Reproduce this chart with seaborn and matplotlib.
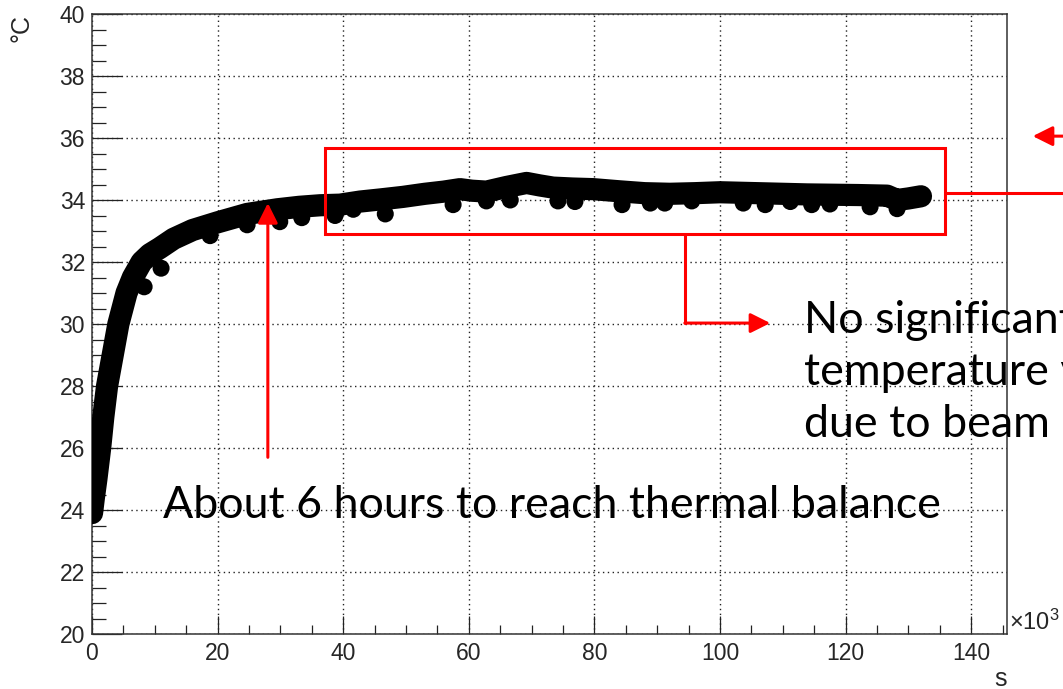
import numpy as np
import pandas as pd
import seaborn as sns
import matplotlib
matplotlib.use("Agg")
import matplotlib.pyplot as plt
from matplotlib.ticker import MultipleLocator
from matplotlib.patches import Rectangle

# ---- data (time in 10^3 s, temperature in deg C) ----
time_main = [0, 0.3, 0.7, 1.3, 1.8, 2.4, 3.3, 4.2, 5.5, 6.5, 7.9, 9.2, 10.8, 13, 16, 20,
             24.7, 29.5, 33, 36.3, 39.5, 42.7, 46, 49.5, 53, 56, 58.6, 60.5, 62.8, 66,
             69.2, 71.3, 73.4, 76.5, 79.8, 84, 88, 92, 96, 100, 104, 108, 113.9, 118,
             122, 126.6, 128.2, 130, 132.0]
temp_main = [23.9, 24.4, 25.0, 26.0, 27.0, 28.0, 29.0, 30.0, 31.0, 31.5, 32.0, 32.25,
             32.45, 32.75, 33.03, 33.28, 33.55, 33.7, 33.78, 33.83, 33.85, 33.95, 34.02,
             34.1, 34.2, 34.27, 34.35, 34.3, 34.27, 34.42, 34.55, 34.47, 34.4, 34.37,
             34.35, 34.28, 34.22, 34.2, 34.22, 34.25, 34.23, 34.21, 34.18, 34.17, 34.16,
             34.14, 34.0, 34.05, 34.12]

time_dips = [8.3, 11.0, 18.8, 24.7, 29.9, 33.4, 38.7, 41.6, 46.7, 57.5, 62.8, 66.6, 74.2,
             76.9, 84.4, 88.9, 91.2, 95.5, 103.7, 107.2, 111.2, 114.6, 117.5, 123.9, 128.2]
temp_dips = [31.2, 31.8, 32.85, 33.2, 33.3, 33.43, 33.5, 33.7, 33.55, 33.85, 33.97, 34.0,
             33.97, 33.95, 33.85, 33.9, 33.9, 33.97, 33.9, 33.85, 33.95, 33.85, 33.87,
             33.78, 33.72]

x_ticks = [0, 20, 40, 60, 80, 100, 120, 140]
y_ticks = [20, 22, 24, 26, 28, 30, 32, 34, 36, 38, 40]

note_main = "About 6 hours to reach thermal balance"
note_side = ["No significant", "temperature variation", "due to beam"]

df_main = pd.DataFrame({"t": time_main, "T": temp_main})
df_dips = pd.DataFrame({"t": time_dips, "T": temp_dips})

sns.set_style("white")
plt.rcParams["font.family"] = ["Liberation Sans", "DejaVu Sans"]
plt.rcParams["mathtext.fontset"] = "custom"
plt.rcParams["mathtext.rm"] = "Liberation Sans"
plt.rcParams["mathtext.it"] = "Liberation Sans:italic"

W, H = 1063, 689
fig = plt.figure(figsize=(W / 100, H / 100), dpi=100)
L, R, T, B = 92, 1007, 14, 634
ax = fig.add_axes([L / W, 1 - B / H, (R - L) / W, (B - T) / H])

sns.lineplot(data=df_main, x="t", y="T", ax=ax, color="black", linewidth=16,
             sort=False, solid_capstyle="round", solid_joinstyle="round", zorder=3)
sns.scatterplot(data=df_dips, x="t", y="T", ax=ax, color="black", s=150,
                edgecolor="none", zorder=3)

ax.set_xlim(0, 145.7)
ax.set_ylim(20, 40)
ax.set_xticks(x_ticks)
ax.set_yticks(y_ticks)
ax.xaxis.set_minor_locator(MultipleLocator(5))
ax.yaxis.set_minor_locator(MultipleLocator(0.5))
ax.grid(True, which="major", color="#222222", linestyle=(0, (1, 2.5)), linewidth=1.0, zorder=1)
ax.set_axisbelow(True)

for s in ax.spines.values():
    s.set_color("#333333")
    s.set_linewidth(1.1)

ax.tick_params(axis="x", which="major", direction="in", length=13, width=0.9,
               labelsize=16.5, pad=6, color="#222222", bottom=True, top=False)
ax.tick_params(axis="x", which="minor", direction="in", length=6.5, width=0.9,
               color="#222222", bottom=True, top=False)
ax.tick_params(axis="y", which="major", direction="in", length=21.6, width=0.9,
               labelsize=16.5, pad=5, color="#222222", left=True, right=False)
ax.tick_params(axis="y", which="minor", direction="in", length=10, width=0.9,
               color="#222222", left=True, right=False)

ax.set_ylabel("°C", fontsize=18)
ax.yaxis.set_label_coords((22 - L) / (R - L), (B - 28) / (B - T))
ax.yaxis.label.set_rotation_mode("default")
ax.yaxis.label.set_ha("center")
ax.yaxis.label.set_va("center")
ax.set_xlabel("s", fontsize=18)
ax.xaxis.set_label_coords((1001 - L) / (R - L), (B - 679) / (B - T))
ax.xaxis.label.set_ha("center")
ax.xaxis.label.set_va("center")
ax.text(1.002, -0.002, r"$\mathrm{\times10^{3}}$", transform=ax.transAxes, ha="left",
        va="bottom", fontsize=17)

# ---- red annotations ----
red = "#ff0000"
lw_red = 2.2
arrow_kw = dict(arrowstyle="-|>,head_length=0.8,head_width=0.4", color=red, lw=lw_red,
                mutation_scale=15, shrinkA=0, shrinkB=0)

ax.add_patch(Rectangle((37.1, 32.9), 98.7, 2.78, fill=False, ec=red, lw=lw_red, zorder=6))
ax.plot([135.8, 165], [34.23, 34.23], color=red, lw=lw_red, clip_on=False, zorder=6)
ax.annotate("", xy=(149.8, 36.06), xytext=(165, 36.06), arrowprops=arrow_kw,
            annotation_clip=False, zorder=6)
ax.plot([94.4, 94.4], [32.9, 30.03], color=red, lw=lw_red, zorder=6)
ax.annotate("", xy=(108.0, 30.03), xytext=(94.4, 30.03), arrowprops=arrow_kw, zorder=6)
ax.annotate("", xy=(28.0, 33.9), xytext=(28.0, 25.7), arrowprops=arrow_kw, zorder=6)

txt_font = ["Lato", "DejaVu Sans"]
ax.text(11.3, 23.74, note_main, fontsize=32.2, family=txt_font, ha="left", va="baseline",
        zorder=7, color="black")
for line, yb in zip(note_side, [29.71, 28.03, 26.35]):
    ax.text(113.4, yb, line, fontsize=32.2, family=txt_font, ha="left", va="baseline",
            zorder=7, clip_on=False, color="black")

fig.savefig("out.png", dpi=100)
